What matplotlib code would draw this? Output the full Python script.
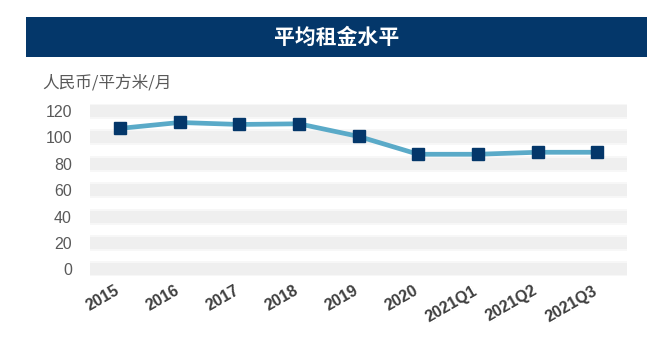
import matplotlib
matplotlib.use('Agg')
from matplotlib import pyplot as plt
from matplotlib.patches import Rectangle
from matplotlib.transforms import ScaledTranslation

plt.rcParams['font.family'] = ['Liberation Sans', 'Noto Sans CJK SC', 'DejaVu Sans']

periods = ['2015', '2016', '2017', '2018', '2019', '2020', '2021Q1', '2021Q2', '2021Q3']
rent = [106.5, 111, 109.5, 110, 100.5, 87, 87, 88.5, 88.5]
y_ticks = [0, 20, 40, 60, 80, 100, 120]

title = '平均租金水平'
unit_label = '人民币/平方米/月'

navy = '#04376a'
line_blue = '#5aaac8'
band_grey = '#efefef'

fig = plt.figure(figsize=(6.6, 3.43), dpi=100)

# title banner
fig.patches.append(Rectangle((26 / 660, 1 - 56.7 / 343), 621 / 660, 40 / 343,
                             transform=fig.transFigure, facecolor=navy,
                             edgecolor='none', zorder=0))
fig.text(336.5 / 660, 1 - 37 / 343, title, ha='center', va='center',
         color='white', fontsize=15, fontweight='bold',
         family=['Noto Sans CJK SC', 'DejaVu Sans'])
fig.text(42 / 660, 1 - 83.5 / 343, unit_label, ha='left', va='center',
         color='#595959', fontsize=12, family=['Noto Sans CJK SC', 'DejaVu Sans'])

ax = fig.add_axes([90 / 660, 0.195, 537 / 660, 0.502])
x = list(range(len(periods)))

# soft grey bands at each gridline
for v in y_ticks:
    ax.axhline(v, color='#f7f7f7', lw=11.5, zorder=0, solid_capstyle='butt')
    ax.axhline(v, color=band_grey, lw=8.5, zorder=1, solid_capstyle='butt')

ax.plot(x, rent, color=line_blue, lw=3.4, zorder=3)
ax.plot(x, rent, ls='none', marker='s', markersize=8.8, color=navy, zorder=4)

ax.set_xlim(-0.5, len(periods) - 0.5)
ax.set_ylim(-5, 125)
ax.set_yticks(y_ticks)
ax.set_xticks(x)
ax.set_xticklabels(periods, rotation=30, ha='right', rotation_mode='anchor',
                   fontsize=11.5, fontweight='bold', color='#3f3f3f')
ax.tick_params(axis='y', length=0, pad=13, labelsize=11.5, labelcolor='#595959')
ax.tick_params(axis='x', length=0, pad=5)
for lbl in ax.get_xticklabels():
    lbl.set_transform(lbl.get_transform() + ScaledTranslation(-5 / 100, 0, fig.dpi_scale_trans))
for s in ax.spines.values():
    s.set_visible(False)
ax.patch.set_alpha(0)

fig.savefig('out.png', dpi=100)
